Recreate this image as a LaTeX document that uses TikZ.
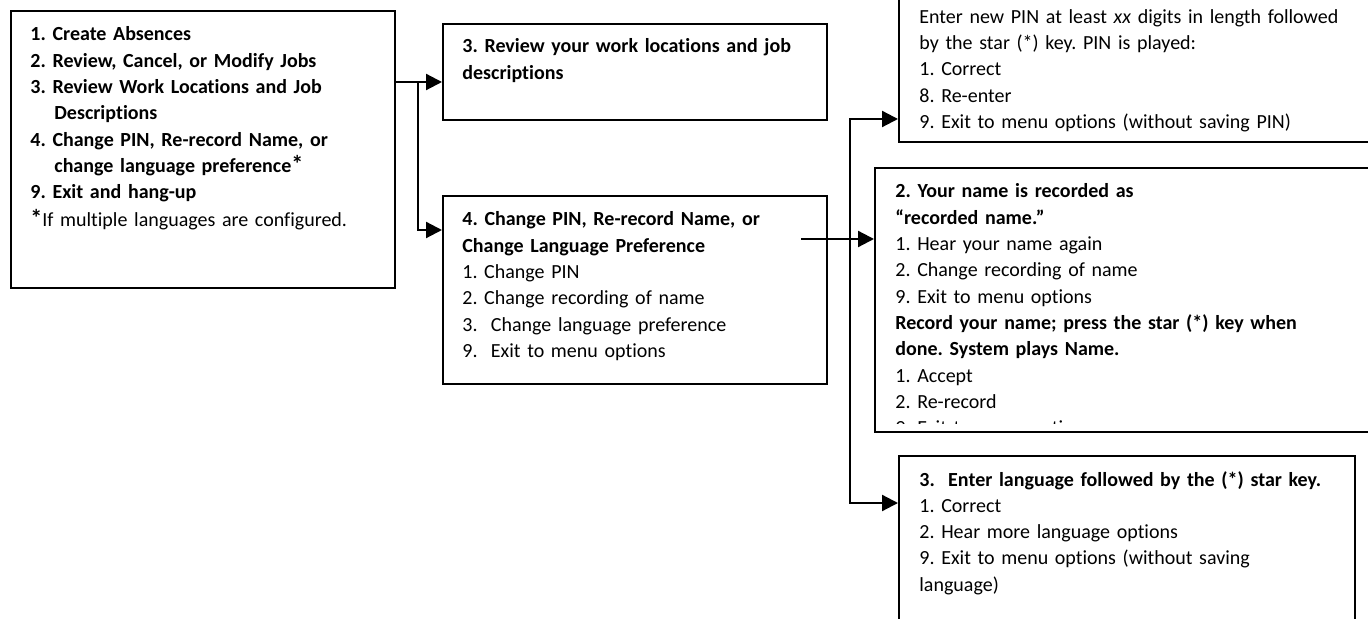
\documentclass[tikz,border=0pt]{standalone}
\usepackage{fontspec}
\setmainfont{Carlito}[Ligatures=NoCommon]
\usetikzlibrary{arrows.meta}

\tikzset{
  box/.style={draw=black, line width=1.1pt, inner sep=0pt, anchor=north west},
  txt/.style={anchor=base west, inner sep=0pt, text width=260pt, align=left,
    font=\fontsize{10}{13.15}\selectfont\frenchspacing},
  arr/.style={-{Triangle[length=8pt,width=8pt]}, line width=1.1pt, black}
}

\begin{document}
\begin{tikzpicture}[x=0.5pt, y=-0.5pt]
    \useasboundingbox (0,0) rectangle (1368,619);
    \clip (0,0) rectangle (1368,619);

    % Boxes
    \node[box, minimum width=192pt, minimum height=138.5pt] (menu) at (10,10) {};
    \node[box, minimum width=192pt, minimum height=48pt] (review) at (442,23) {};
    \node[box, minimum width=192pt, minimum height=94pt] (change) at (442,195) {};
    \node[box, minimum width=241pt, minimum height=100.5pt] (pin) at (898,-60) {};
    \node[box, minimum width=253pt, minimum height=132pt] (name) at (874,167) {};
    \node[box, minimum width=228pt, minimum height=92.5pt] (lang) at (898,455) {};

    % Main menu
    \node[txt] (menutext) at (30,41) {%
      \textbf{1. Create Absences}\\
      \textbf{2. Review, Cancel, or Modify Jobs}\\
      \textbf{3. Review Work Locations and Job}\\
      \hspace*{12pt}\textbf{Descriptions}\\
      \textbf{4. Change PIN, Re-record Name, or}\\
      \hspace*{12pt}\textbf{change language preference}{\large\textbf{*}}\\
      \textbf{9. Exit and hang-up}\\[0.5pt]
      {\large\textbf{*}}If multiple languages are configured.};

    % Option 3
    \node[txt] (reviewtext) at (462,53) {%
      \textbf{3. Review your work locations and job}\\
      \textbf{descriptions}};

    % Option 4
    \node[txt] (changetext) at (462,226) {%
      \textbf{4. Change PIN, Re-record Name, or}\\
      \textbf{Change Language Preference}\\
      1. Change PIN\\
      2. Change recording of name\\
      3.\ \ Change language preference\\
      9.\ \ Exit to menu options};

    % Sub options
    \node[txt] (pintext) at (919,-3) {%
      \textbf{1. Change PIN}\\
      Enter new PIN at least \textit{xx} digits in length followed\\
      by the star (*) key. PIN is played:\\
      1. Correct\\
      8. Re-enter\\
      9. Exit to menu options (without saving PIN)};

    \begin{scope}
      \clip (874,167) rectangle (1368,423);
      \node[txt] (nametext) at (895,198) {%
        \textbf{2. Your name is recorded as}\\
        \textbf{“recorded name.”}\\
        1. Hear your name again\\
        2. Change recording of name\\
        9. Exit to menu options\\
        \textbf{Record your name; press the star (*) key when}\\
        \textbf{done. System plays Name.}\\
        1. Accept\\
        2. Re-record\\
        9. Exit to menu options};
    \end{scope}

    \node[txt] (langtext) at (919,486) {%
      \textbf{3.\ \ Enter language followed by the (*) star key.}\\
      1. Correct\\
      2. Hear more language options\\
      9. Exit to menu options (without saving\\
      language)};

    % Connections
    \coordinate (fork1) at (418,82);
    \coordinate (fork1end) at (418,230);
    \coordinate (start) at (801,239);
    \coordinate (fork2) at (850,119);
    \coordinate (fork2end) at (850,503);

    \draw[arr] (menu.east |- fork1) -- (review.west |- fork1);
    \draw[arr] (fork1) -- (fork1end) -- (change.west |- fork1end);
    \draw[arr] (start) -- (name.west |- start);
    \draw[arr] (fork2end) -- (fork2) -- (pin.west |- fork2);
    \draw[arr] (fork2) -- (fork2end) -- (lang.west |- fork2end);
  \end{tikzpicture}
\end{document}
